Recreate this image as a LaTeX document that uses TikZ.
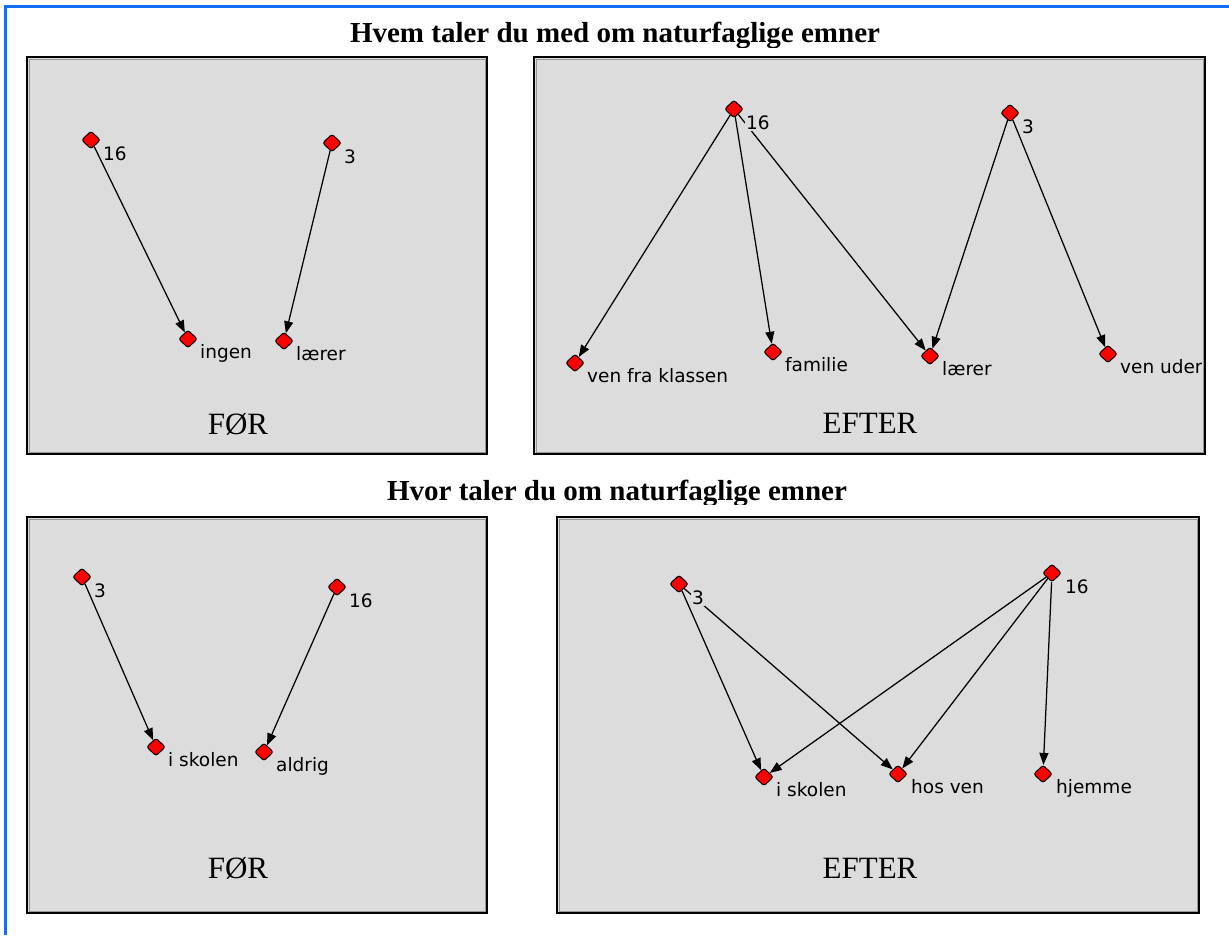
\documentclass[tikz,border=0pt]{standalone}
\usepackage{fontspec}
\setmainfont{Liberation Serif}
\newfontfamily\lblfont{DejaVu Sans}
\usetikzlibrary{shapes.geometric,arrows.meta,calc}
\definecolor{framecol}{RGB}{18,108,255}
\definecolor{panelbg}{RGB}{220,220,220}
\definecolor{panelrim}{RGB}{150,150,150}
\definecolor{dotred}{RGB}{255,0,0}

\begin{document}
\begin{tikzpicture}[x=1pt,y=-1pt,
  vtx/.style={diamond,draw=black,fill=dotred,line width=1pt,minimum width=19pt,minimum height=18pt,inner sep=0pt,rounded corners=2.5pt},
  link/.style={draw=black,line width=1.25pt,-{Triangle[length=12pt,width=9pt]}},
  lbl/.style={font=\lblfont\fontsize{18.5}{18.5}\selectfont,anchor=base west,fill=panelbg,inner xsep=1pt,inner ysep=1.5pt},
  headline/.style={font=\bfseries\fontsize{29}{29}\selectfont,anchor=base,inner sep=0pt},
  phase/.style={font=\fontsize{31}{31}\selectfont,anchor=base,inner sep=0pt},
  panelframe/.style={draw=black,line width=2.5pt},
  panelrimline/.style={draw=panelrim,line width=1pt}
]
\useasboundingbox (0,0) rectangle (1229,935);

% outer page frame (left and top edges only)
\draw[framecol,line width=3pt] (5,935) -- (5,6) -- (1229,6);

% ---------- headings ----------
\begin{scope}
  \clip (0,0) rectangle (1229,47);
  \node[headline] (t1) at (615,42.5) {Hvem taler du med om naturfaglige emner};
\end{scope}
\begin{scope}
  \clip (0,470) rectangle (1229,504.5);
  \node[headline] (t2) at (617,500) {Hvor taler du om naturfaglige emner};
\end{scope}

% ---------- panel A: who, before ----------
\fill[panelbg] (27,57) rectangle (487,454);
\node[vtx] (a16) at (91,140) {};
\node[vtx] (a3) at (332,143) {};
\node[vtx] (aingen) at (188,339) {};
\node[vtx] (alaerer) at (284,341) {};
\draw[link] (a16) -- (aingen);
\draw[link] (a3) -- (alaerer);
\node[lbl] (a16t) at ($(a16)+(11,20)$) {16};
\node[lbl] (a3t) at ($(a3)+(11,20)$) {3};
\node[lbl] (aingent) at ($(aingen)+(11,19.5)$) {ingen};
\node[lbl] (alaerert) at ($(alaerer)+(11,19.5)$) {lærer};
\node[phase] (afor) at (238,434) {FØR};
\draw[panelrimline] (29,59) rectangle (485,452);
\draw[panelframe] (27,57) rectangle (487,454);

% ---------- panel B: who, after ----------
\fill[panelbg] (534,57) rectangle (1205,454);
\node[vtx] (b16) at (734,109) {};
\node[vtx] (b3) at (1010,113) {};
\node[vtx] (bven) at (575,363) {};
\node[vtx] (bfam) at (773,352) {};
\node[vtx] (blaer) at (930,356) {};
\node[vtx] (buden) at (1108,354) {};
\draw[link] (b16) -- (bven);
\draw[link] (b16) -- (bfam);
\draw[link] (b16) -- (blaer);
\draw[link] (b3) -- (blaer);
\draw[link] (b3) -- (buden);
\begin{scope}
  \clip (534,57) rectangle (1201,454);
  \node[lbl] (b16t) at ($(b16)+(11,20)$) {16};
  \node[lbl] (b3t) at ($(b3)+(11,20)$) {3};
  \node[lbl] (bvent) at ($(bven)+(11,19.5)$) {ven fra klassen};
  \node[lbl] (bfamt) at ($(bfam)+(11,19.5)$) {familie};
  \node[lbl] (blaert) at ($(blaer)+(11,19.5)$) {lærer};
  \node[lbl] (budent) at ($(buden)+(11,19.5)$) {ven uden};
\end{scope}
\node[phase] (bafter) at (870,433) {EFTER};
\draw[panelrimline] (536,59) rectangle (1203,452);
\draw[panelframe] (534,57) rectangle (1205,454);

% ---------- panel C: where, before ----------
\fill[panelbg] (27,517) rectangle (487,913);
\node[vtx] (c3) at (82,577) {};
\node[vtx] (c16) at (337,587) {};
\node[vtx] (cskole) at (156,747) {};
\node[vtx] (caldrig) at (264,752) {};
\draw[link] (c3) -- (cskole);
\draw[link] (c16) -- (caldrig);
\node[lbl] (c3t) at ($(c3)+(11,20)$) {3};
\node[lbl] (c16t) at ($(c16)+(11,20)$) {16};
\node[lbl] (cskolet) at ($(cskole)+(11,19.5)$) {i skolen};
\node[lbl] (caldrigt) at ($(caldrig)+(11,19.5)$) {aldrig};
\node[phase] (cfor) at (238,878) {FØR};
\draw[panelrimline] (29,519) rectangle (485,911);
\draw[panelframe] (27,517) rectangle (487,913);

% ---------- panel D: where, after ----------
\fill[panelbg] (557,517) rectangle (1199,913);
\node[vtx] (d3) at (679,584) {};
\node[vtx] (d16) at (1052,573) {};
\node[vtx] (dskole) at (764,777) {};
\node[vtx] (dhos) at (898,774) {};
\node[vtx] (dhjem) at (1043,774) {};
\draw[link] (d3) -- (dskole);
\draw[link] (d3) -- (dhos);
\draw[link] (d16) -- (dskole);
\draw[link] (d16) -- (dhos);
\draw[link] (d16) -- (dhjem);
\node[lbl] (d3t) at ($(d3)+(12,20)$) {3};
\node[lbl] (d16t) at ($(d16)+(12,20)$) {16};
\node[lbl] (dskolet) at ($(dskole)+(11,19.5)$) {i skolen};
\node[lbl] (dhost) at ($(dhos)+(12,19.5)$) {hos ven};
\node[lbl] (dhjemt) at ($(dhjem)+(12,19.5)$) {hjemme};
\node[phase] (dafter) at (870,878) {EFTER};
\draw[panelrimline] (559,519) rectangle (1197,911);
\draw[panelframe] (557,517) rectangle (1199,913);
\end{tikzpicture}
\end{document}
